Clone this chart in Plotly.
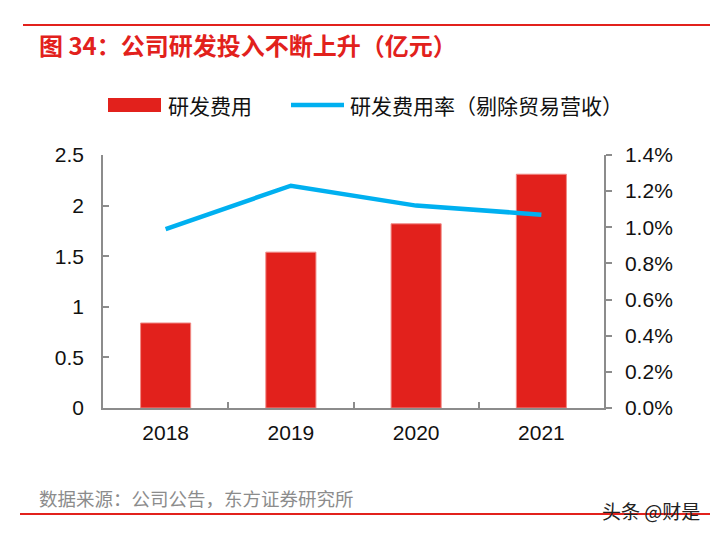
import plotly.graph_objects as go

years = ["2018", "2019", "2020", "2021"]
rd_expense = [0.84, 1.54, 1.82, 2.31]          # 亿元
rd_ratio = [0.0099, 0.0123, 0.0112, 0.0107]    # 研发费用率（剔除贸易营收）

left_ticks = [0, 0.5, 1, 1.5, 2, 2.5]
left_ticktext = ["0", "0.5", "1", "1.5", "2", "2.5"]
right_ticks = [0, 0.002, 0.004, 0.006, 0.008, 0.010, 0.012, 0.014]
right_ticktext = ["0.0%", "0.2%", "0.4%", "0.6%", "0.8%", "1.0%", "1.2%", "1.4%"]

title_text = "图 34：公司研发投入不断上升（亿元）"
legend_bar = "研发费用"
legend_line = "研发费用率（剔除贸易营收）"
source_text = "数据来源：公司公告，东方证券研究所"
watermark = "头条 @财是"

W, H = 710, 535
L, R, T, B = 103, 106, 155, 127
PW, PH = W - L - R, H - T - B

RED = "#E2211C"
BLUE = "#00B0F0"
AXIS = "#8C8C8C"
FONT = "Liberation Sans, Arial, Noto Sans CJK SC, sans-serif"
CJK = "Noto Sans CJK SC, sans-serif"


def px(x):
    return (x - L) / PW


def py(y):
    return (H - B - y) / PH


fig = go.Figure()
fig.add_trace(go.Bar(
    x=years, y=rd_expense, name=legend_bar,
    marker=dict(color=RED, line=dict(color="#F08A86", width=1)),
    width=0.4, showlegend=False,
))
fig.add_trace(go.Scatter(
    x=years, y=rd_ratio, name=legend_line, yaxis="y2", mode="lines",
    line=dict(color=BLUE, width=4.5), showlegend=False,
))

shapes = [
    dict(type="line", xref="paper", yref="paper", x0=px(23), x1=px(710), y0=py(25), y1=py(25),
         line=dict(color=RED, width=2)),
    dict(type="line", xref="paper", yref="paper", x0=px(20), x1=px(710), y0=py(514), y1=py(514),
         line=dict(color=RED, width=2)),
    dict(type="rect", xref="paper", yref="paper", x0=px(108), x1=px(161), y0=py(112), y1=py(98),
         fillcolor=RED, line=dict(width=0)),
    dict(type="line", xref="paper", yref="paper", x0=px(291), x1=px(344), y0=py(105), y1=py(105),
         line=dict(color=BLUE, width=4.5)),
]

annotations = [
    dict(text=f"<b>{title_text}</b>", xref="paper", yref="paper", x=px(37), y=py(44),
         xanchor="left", yanchor="middle", showarrow=False,
         font=dict(family=CJK, size=24, color=RED)),
    dict(text=legend_bar, xref="paper", yref="paper", x=px(166), y=py(105),
         xanchor="left", yanchor="middle", showarrow=False,
         font=dict(family=CJK, size=21, color="#111111")),
    dict(text=legend_line, xref="paper", yref="paper", x=px(348), y=py(105),
         xanchor="left", yanchor="middle", showarrow=False,
         font=dict(family=CJK, size=21, color="#111111")),
    dict(text=source_text, xref="paper", yref="paper", x=px(37), y=py(498),
         xanchor="left", yanchor="middle", showarrow=False,
         font=dict(family=CJK, size=18.5, color="#8C8C8C")),
    dict(text=watermark, xref="paper", yref="paper", x=px(702), y=py(511),
         xanchor="right", yanchor="middle", showarrow=False,
         font=dict(family=CJK, size=19, color="#222222")),
]

fig.update_layout(
    width=W, height=H,
    margin=dict(l=L, r=R, t=T, b=B, pad=0),
    paper_bgcolor="white", plot_bgcolor="white",
    font=dict(family=FONT, size=21, color="#111111"),
    bargap=0.6,
    shapes=shapes, annotations=annotations,
    xaxis=dict(
        type="category", showline=True, linecolor=AXIS, linewidth=1.5,
        ticks="inside", ticklen=6, tickcolor=AXIS, tickwidth=1.5, tickson="boundaries",
        showgrid=False, zeroline=False, ticklabelstandoff=5,
        tickfont=dict(family=FONT, size=21, color="#111111"),
    ),
    yaxis=dict(
        range=[0, 2.5], tickvals=left_ticks, ticktext=left_ticktext,
        showline=True, linecolor=AXIS, linewidth=1.5,
        ticks="inside", ticklen=6, tickcolor=AXIS, tickwidth=1.5,
        showgrid=False, zeroline=False, ticklabelstandoff=13,
        tickfont=dict(family=FONT, size=21, color="#111111"),
    ),
    yaxis2=dict(
        range=[0, 0.014], tickvals=right_ticks, ticktext=right_ticktext,
        overlaying="y", side="right",
        showline=True, linecolor=AXIS, linewidth=1.5,
        ticks="outside", ticklen=6, tickcolor=AXIS, tickwidth=1.5,
        showgrid=False, zeroline=False, ticklabelstandoff=9,
        tickfont=dict(family=FONT, size=21, color="#111111"),
    ),
)

fig.write_html(
    "out.html",
    config={"displayModeBar": False},
    post_script="document.body.style.margin='0';document.body.style.overflow='hidden';",
)
